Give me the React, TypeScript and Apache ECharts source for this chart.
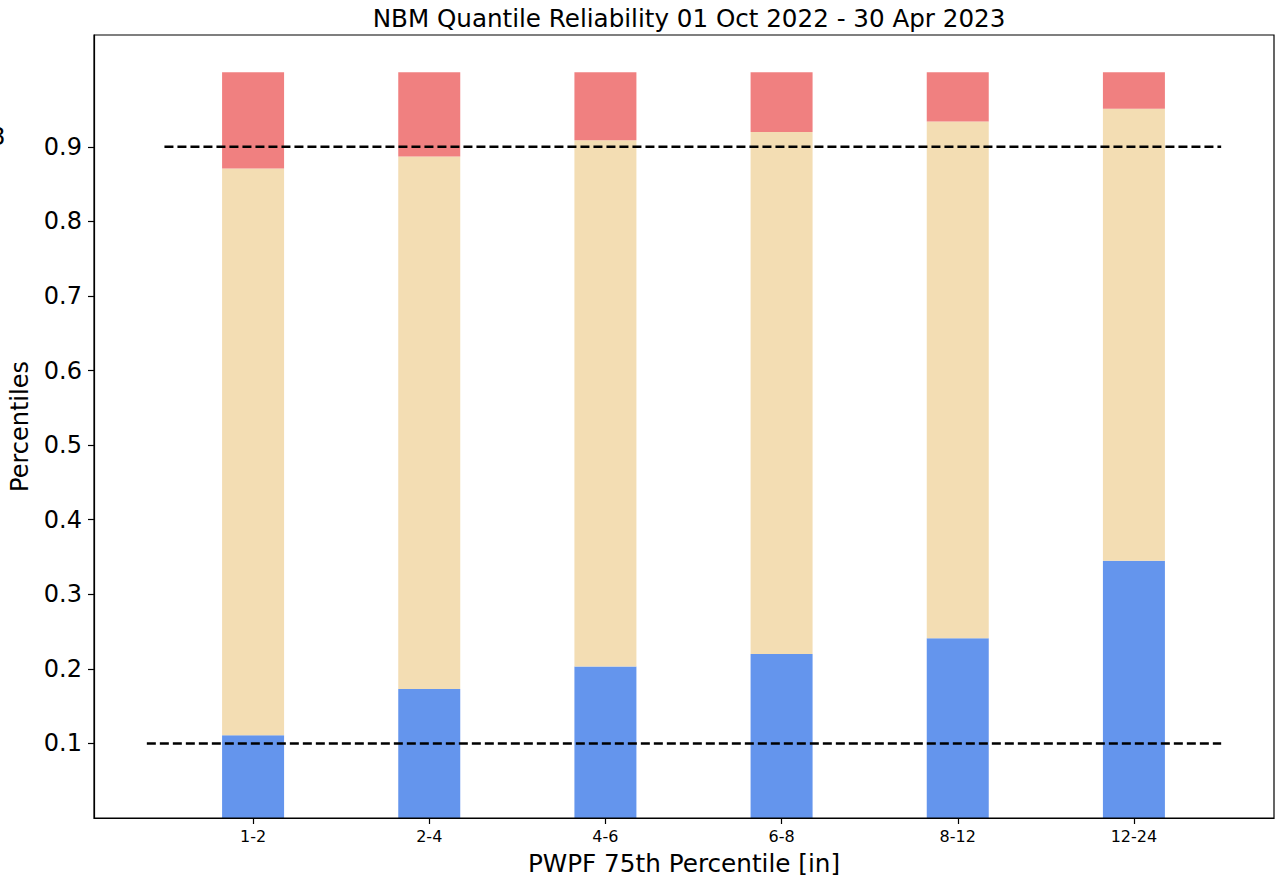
import React, { useEffect, useRef } from 'react';
import * as echarts from 'echarts';

const categories = ['1-2', '2-4', '4-6', '6-8', '8-12', '12-24'];
const belowShare = [0.111, 0.173, 0.203, 0.22, 0.241, 0.345];
const withinShare = [0.76, 0.714, 0.706, 0.7, 0.693, 0.606];
const aboveShare = [0.129, 0.113, 0.091, 0.08, 0.066, 0.049];
const yTickValues = [0.1, 0.2, 0.3, 0.4, 0.5, 0.6, 0.7, 0.8, 0.9];
const upperRef = 0.9;
const lowerRef = 0.1;
const upperSpan = [-0.5, 5.5];
const lowerSpan = [-0.6, 5.5];

const FONT = 'DejaVu Sans';

export default function App() {
  const ref = useRef<HTMLDivElement>(null);
  useEffect(() => {
    if (!ref.current) return;
    const chart = echarts.init(ref.current, undefined, { renderer: 'svg' });
    const barSeries = (name: string, values: number[], color: string) => ({
      name,
      type: 'bar',
      stack: 'q',
      xAxisIndex: 1,
      yAxisIndex: 1,
      barWidth: 62,
      itemStyle: { color },
      data: values,
    });
    const dashSeries = (span: number[], y: number) => ({
      type: 'line',
      xAxisIndex: 0,
      yAxisIndex: 0,
      symbol: 'none',
      z: 5,
      silent: true,
      lineStyle: { color: '#000', width: 2.5, type: [9, 4] },
      data: [
        [span[0], y],
        [span[1], y],
      ],
    });
    chart.setOption({
      animation: false,
      textStyle: { fontFamily: FONT },
      title: {
        text: 'NBM Quantile Reliability 01 Oct 2022 - 30 Apr 2023',
        left: 684,
        textAlign: 'center',
        top: 1,
        textStyle: { fontFamily: FONT, fontSize: 24.6, fontWeight: 'normal', color: '#000' },
      },
      grid: [
        {
          left: 94,
          right: 4,
          top: 35,
          bottom: 63,
          show: true,
          borderColor: '#000',
          borderWidth: 1.2,
          backgroundColor: 'transparent',
          z: 10,
        },
        {
          left: 165,
          right: 56,
          top: 35,
          bottom: 63,
        },
      ],
      xAxis: [
        {
          type: 'value',
          gridIndex: 0,
          min: -0.9,
          max: 5.8,
          splitLine: { show: false },
          axisLine: { show: true, onZero: false, lineStyle: { color: '#000', width: 1.2 } },
          axisTick: { show: false },
          axisLabel: { show: false },
          name: 'PWPF 75th Percentile [in]',
          nameLocation: 'middle',
          nameGap: 33,
          nameTextStyle: { fontSize: 24.7, color: '#000', fontFamily: FONT },
        },
        {
          type: 'category',
          gridIndex: 1,
          data: categories,
          boundaryGap: true,
          axisLine: { show: false, onZero: false },
          axisTick: {
            show: true,
            alignWithLabel: true,
            length: 6,
            lineStyle: { color: '#000', width: 1.2 },
          },
          axisLabel: {
            fontSize: 16,
            color: '#000',
            fontFamily: FONT,
            margin: 10,
          },
        },
      ],
      yAxis: [
        {
          type: 'value',
          gridIndex: 0,
          min: 0,
          max: 1.05,
          splitLine: { show: false },
          axisLine: { show: true, onZero: false, lineStyle: { color: '#000', width: 1.2 } },
          axisTick: {
            show: true,
            customValues: yTickValues,
            length: 6,
            lineStyle: { color: '#000', width: 1.2 },
          },
          axisLabel: {
            customValues: yTickValues,
            formatter: (v: number) => v.toFixed(1),
            fontSize: 24,
            color: '#000',
            fontFamily: FONT,
            margin: 12,
          },
          name: 'Percentiles',
          nameLocation: 'middle',
          nameGap: 62,
          nameTextStyle: { fontSize: 24, color: '#000', fontFamily: FONT },
        },
        {
          type: 'value',
          gridIndex: 1,
          min: 0,
          max: 1.05,
          show: false,
        },
      ],
      graphic: [
        {
          type: 'text',
          left: -10,
          top: 125,
          style: { text: '8', fontSize: 24, fill: '#000', fontFamily: FONT },
        },
      ],
      series: [
        barSeries('below', belowShare, '#6495ED'),
        barSeries('within', withinShare, '#F3DDB3'),
        barSeries('above', aboveShare, '#F08080'),
        dashSeries(upperSpan, upperRef),
        dashSeries(lowerSpan, lowerRef),
      ],
    });
    return () => chart.dispose();
  }, []);
  return (
    <div
      ref={ref}
      style={{ position: 'fixed', left: 0, top: 0, width: 1278, height: 881, background: '#fff' }}
    />
  );
}
